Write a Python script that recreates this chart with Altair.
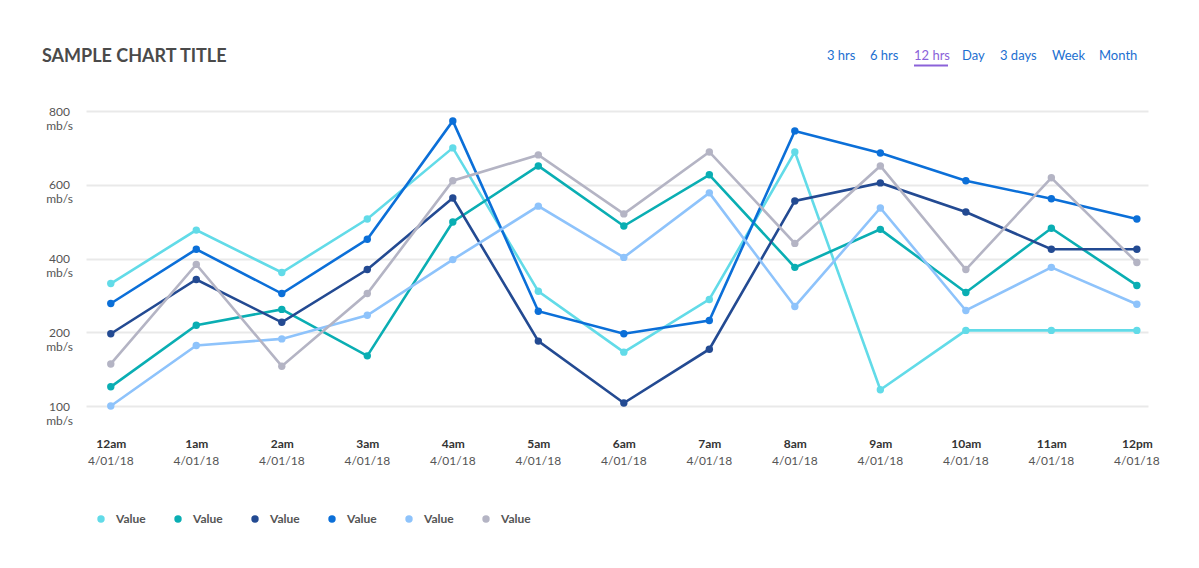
import altair as alt
import pandas as pd

times = ["12am", "1am", "2am", "3am", "4am", "5am", "6am", "7am", "8am", "9am", "10am", "11am", "12pm"]
dates = ["4/01/18"] * 13
series_names = ["Series 1", "Series 2", "Series 3", "Series 4", "Series 5", "Series 6"]
s1 = [332, 477, 362, 507, 700, 311, 173, 289, 689, 122, 205, 205, 205]
s2 = [126, 219, 262, 168, 499, 651, 488, 627, 376, 479, 308, 482, 327]
s3 = [198, 343, 227, 370, 564, 188, 104, 177, 556, 605, 526, 425, 425]
s4 = [278, 425, 305, 452, 773, 257, 198, 232, 746, 686, 611, 562, 507]
s5 = [100, 182, 191, 246, 397, 542, 403, 578, 270, 537, 259, 376, 276]
s6 = [157, 384, 154, 305, 611, 681, 521, 689, 441, 651, 370, 619, 389]
series_values = [s1, s2, s3, s4, s5, s6]
colors = ["#62dbe8", "#0aaeb3", "#234a92", "#0b6fd8", "#8ec3fb", "#b4b4c4"]
y_ticks = [100, 200, 400, 600, 800]
nav_links = ["3 hrs", "6 hrs", "12 hrs", "Day", "3 days", "Week", "Month"]
title_text = "SAMPLE CHART TITLE"

W, H = 1062, 295
FONT = "Lato"

rows = []
for name, vals in zip(series_names, series_values):
    for t, v in zip(times, vals):
        rows.append({"series": name, "time": t, "value": v})
df = pd.DataFrame(rows)
df_dates = pd.DataFrame({"time": times, "date": dates})

x_scale = alt.Scale(type="point", domain=times, padding=0.21, align=0.69)
y_scale = alt.Scale(domain=y_ticks, range=[H, H * 0.75, H * 0.5, H * 0.25, 0], zero=False, nice=False)
color_scale = alt.Scale(domain=series_names, range=colors)

legend = alt.Legend(title=None, orient="none", direction="horizontal",
                    legendX=9, legendY=402, labelExpr="'Value'",
                    symbolType="circle", symbolSize=55, symbolStrokeWidth=0,
                    labelFont=FONT, labelFontSize=12, labelFontWeight="bold",
                    labelColor="#555555", labelOffset=9, columnPadding=26)

x_enc = alt.X("time:N", scale=x_scale, sort=times, title=None,
              axis=alt.Axis(domain=False, ticks=False, tickSize=0, grid=False, labelAngle=0,
                            labelFont=FONT, labelFontSize=12, labelFontWeight="bold",
                            labelColor="#333333", labelPadding=32, labelBaseline="top"))
y_enc = alt.Y("value:Q", scale=y_scale, title=None,
              axis=alt.Axis(values=y_ticks, domain=False, ticks=False, tickSize=0,
                            grid=True, gridColor="#e9e9e9", gridWidth=2,
                            labelExpr="[datum.label, 'mb/s']", labelAlign="center",
                            labelBaseline="alphabetic", labelOffset=4, labelLineHeight=14,
                            labelPadding=27, labelFont=FONT, labelFontSize=12,
                            labelColor="#555555"))

lines = alt.Chart(df).mark_line(strokeWidth=2.6).encode(
    x=x_enc, y=y_enc,
    color=alt.Color("series:N", scale=color_scale, legend=legend),
    detail="series:N",
)
points = alt.Chart(df).mark_point(filled=True, size=55, opacity=1).encode(
    x=alt.X("time:N", scale=x_scale, sort=times),
    y=alt.Y("value:Q", scale=y_scale),
    color=alt.Color("series:N", scale=color_scale, legend=legend),
)
date_text = alt.Chart(df_dates).mark_text(font=FONT, fontSize=12, color="#555555", baseline="middle").encode(
    x=alt.X("time:N", scale=x_scale, sort=times),
    y=alt.value(H + 55),
    text="date:N",
)

nav_x = [741, 784, 828, 876, 914, 966, 1013]
nav_layers = []
for lab, nx in zip(nav_links, nav_x):
    col = "#8b62d9" if lab == "12 hrs" else "#1c6fd1"
    nav_layers.append(
        alt.Chart(alt.Data(values=[{}])).mark_text(font=FONT, fontSize=13, color=col,
                                                  align="left", baseline="middle").encode(
            x=alt.value(nx), y=alt.value(-55), text=alt.value(lab))
    )
underline = alt.Chart(alt.Data(values=[{}])).mark_rule(color="#8b62d9", strokeWidth=2).encode(
    x=alt.value(828), x2=alt.value(862), y=alt.value(-45.5)
)

chart = alt.layer(lines, points, date_text, *nav_layers, underline).properties(
    width=W, height=H,
    title=alt.TitleParams(title_text, anchor="start", frame="group", dx=-44, offset=-16,
                          font=FONT, fontSize=18, fontWeight="bold", color="#4a4a4a"),
    autosize=alt.AutoSizeParams(type="none"),
    padding={"left": 78, "top": 103, "right": 40, "bottom": 150},
).configure(background="white").configure_view(stroke=None)

chart.save("out.html", embed_options={"renderer": "svg", "actions": False})
